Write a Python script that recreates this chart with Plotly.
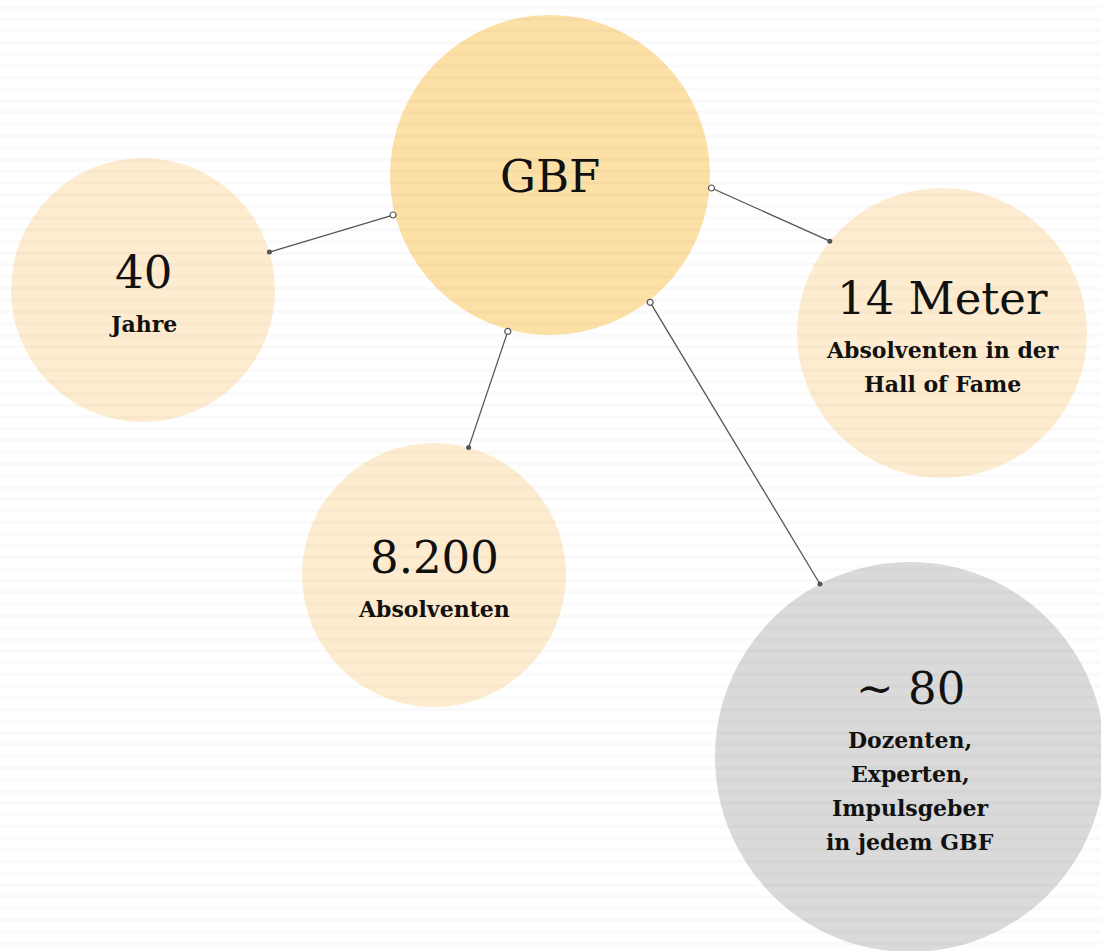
import math
import plotly.graph_objects as go

# ---- data ----
node_values = ["GBF", "40", "8.200", "14 Meter", "~ 80"]
node_subs = [
    [],
    ["Jahre"],
    ["Absolventen"],
    ["Absolventen in der", "Hall of Fame"],
    ["Dozenten,", "Experten,", "Impulsgeber", "in jedem GBF"],
]
# layout of the bubbles (pixel space)
node_cx = [550, 143, 434, 942, 910]
node_cy = [175, 290, 575, 333, 757]
node_r = [160, 132, 132, 145, 195]
node_colors = ["#fde0a6", "#feecd0", "#feecd0", "#feecd0", "#dadada"]

# connectors: from node index, to node index, attachment angles (deg)
edge_from = [0, 0, 0, 0]
edge_to = [1, 3, 2, 4]
edge_from_angle = [165.7, 4.6, 105.1, 51.8]
edge_to_angle = [-16.7, -140.7, -74.8, -117.5]

W, H = 1101, 951
FONT = "DejaVu Serif"

fig = go.Figure()
shapes = []
for x, y, r, c in zip(node_cx, node_cy, node_r, node_colors):
    shapes.append(dict(type="circle", xref="x", yref="y", x0=x - r, x1=x + r,
                       y0=y - r, y1=y + r, fillcolor=c, line=dict(width=0),
                       layer="below"))
# faint horizontal stripes in background
period = 11.7
k = 0
while 7.5 + k * period < H + 5:
    yc = 7.5 + k * period
    shapes.append(dict(type="rect", xref="x", yref="y", x0=0, x1=W,
                       y0=yc - 1.8, y1=yc + 1.8, fillcolor="rgba(0,0,0,0.02)",
                       line=dict(width=0), layer="below"))
    k += 1

for f, t, af, at in zip(edge_from, edge_to, edge_from_angle, edge_to_angle):
    rf = node_r[f] + 2
    rt = node_r[t]
    x0 = node_cx[f] + rf * math.cos(math.radians(af))
    y0 = node_cy[f] + rf * math.sin(math.radians(af))
    x1 = node_cx[t] + rt * math.cos(math.radians(at))
    y1 = node_cy[t] + rt * math.sin(math.radians(at))
    fig.add_trace(go.Scatter(x=[x0, x1], y=[y0, y1], mode="lines",
                             line=dict(color="#555555", width=1.3),
                             hoverinfo="skip", showlegend=False))
    fig.add_trace(go.Scatter(x=[x0], y=[y0], mode="markers",
                             marker=dict(size=6, color="white",
                                         line=dict(color="#555555", width=1.2)),
                             hoverinfo="skip", showlegend=False))
    fig.add_trace(go.Scatter(x=[x1], y=[y1], mode="markers",
                             marker=dict(size=5, color="#555555"),
                             hoverinfo="skip", showlegend=False))

D = 52   # value line -> first sub line
L = 34   # sub line spacing
annotations = []
for val, subs, x, y in zip(node_values, node_subs, node_cx, node_cy):
    n = len(subs)
    if n == 0:
        vy = y + 1
    else:
        vy = y + 8 - (D + (n - 1) * L) / 2
    annotations.append(dict(x=x, y=vy, text=val, showarrow=False,
                            font=dict(family=FONT, size=45, color="#111111"),
                            xanchor="center", yanchor="middle"))
    for i, s in enumerate(subs):
        annotations.append(dict(x=x, y=vy + D + i * L, text="<b>" + s + "</b>",
                                showarrow=False,
                                font=dict(family=FONT, size=22, color="#111111"),
                                xanchor="center", yanchor="middle"))

fig.update_layout(
    width=W, height=H,
    margin=dict(l=0, r=0, t=0, b=0),
    paper_bgcolor="white", plot_bgcolor="white",
    xaxis=dict(range=[0, W], visible=False, fixedrange=True),
    yaxis=dict(range=[H, 0], visible=False, fixedrange=True),
    shapes=shapes, annotations=annotations,
    showlegend=False,
)
fig.write_html("out.html", config={"displayModeBar": False},
               post_script="document.body.style.margin='0';document.body.style.overflow='hidden';")
